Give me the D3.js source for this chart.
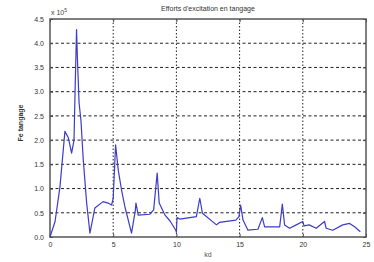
<!DOCTYPE html>
<html><head><meta charset="utf-8">
<script src="https://cdn.jsdelivr.net/npm/d3@7"></script>
<style>html,body{margin:0;padding:0;background:#fff;}svg{display:block;font-family:"Liberation Sans",Arial,sans-serif;}</style>
</head><body>
<script>
const kd = [0,0.4,0.79,1.18,1.45,1.71,1.9,2.0,2.1,2.18,2.3,2.45,2.63,2.9,3.16,3.55,4.2,4.6,4.87,5.0,5.19,5.4,5.66,5.92,6.45,6.75,6.8,6.98,7.9,8.2,8.48,8.64,9.1,9.5,9.95,10.0,10.05,10.27,11.58,11.85,12.06,13.17,13.4,14.7,14.95,15.08,15.27,15.66,16.45,16.8,16.98,18.17,18.38,18.56,18.96,19.48,20.0,20.1,20.5,21.06,21.72,21.85,22.37,23.16,23.7,24.1,24.55];
const fe = [0,0.32,1.04,2.18,2.05,1.73,2.0,3.2,4.28,3.6,2.77,2.4,1.6,0.7,0.08,0.6,0.73,0.7,0.66,0.8,1.9,1.38,0.97,0.63,0.08,0.55,0.7,0.45,0.47,0.56,1.32,0.7,0.45,0.33,0.14,0.1,0.4,0.37,0.42,0.8,0.49,0.25,0.3,0.35,0.42,0.66,0.35,0.14,0.16,0.4,0.21,0.21,0.68,0.25,0.18,0.25,0.32,0.23,0.25,0.18,0.32,0.18,0.14,0.25,0.28,0.21,0.11];
const xTicks = [0,5,10,15,20,25];
const yTicks = [0,0.5,1,1.5,2,2.5,3,3.5,4,4.5];
const title = "Efforts d'excitation en tangage";
const xLabel = "kd";
const yLabel = "Fe tangage";

const W=374,H=262, L=50,R=366,T=19,B=237;
const svg=d3.select("body").append("svg").attr("width",W).attr("height",H);
const x=d3.scaleLinear().domain([0,25]).range([L,R]);
const y=d3.scaleLinear().domain([0,4.5]).range([B,T]);

// grid
svg.append("g").selectAll("line").data(yTicks.slice(1,-1)).join("line")
 .attr("x1",L).attr("x2",R).attr("y1",d=>y(d)).attr("y2",d=>y(d))
 .attr("stroke","#222").attr("stroke-width",1).attr("stroke-dasharray","3,2.5");
svg.append("g").selectAll("line").data(xTicks.slice(1,-1)).join("line")
 .attr("x1",d=>x(d)).attr("x2",d=>x(d)).attr("y1",T).attr("y2",B)
 .attr("stroke","#222").attr("stroke-width",1).attr("stroke-dasharray","1.5,2");

// axes
const xa=svg.append("g").attr("transform",`translate(0,${B})`)
 .call(d3.axisBottom(x).tickValues(xTicks).tickSize(-3).tickPadding(5));
const ya=svg.append("g").attr("transform",`translate(${L},0)`)
 .call(d3.axisLeft(y).tickValues(yTicks).tickSize(-3).tickPadding(6));
[xa,ya].forEach(a=>{a.select(".domain").remove();a.selectAll("line").attr("stroke","#444");a.selectAll("text").attr("font-size",7).attr("fill","#333").attr("font-family","Liberation Sans,Arial,sans-serif");});
svg.append("g").attr("transform",`translate(${R},0)`).call(d3.axisRight(y).tickValues(yTicks).tickSize(-3).tickFormat(""))
 .call(g=>{g.select(".domain").remove();g.selectAll("line").attr("stroke","#444");});
svg.append("g").attr("transform",`translate(0,${T})`).call(d3.axisTop(x).tickValues(xTicks).tickSize(-3).tickFormat(""))
 .call(g=>{g.select(".domain").remove();g.selectAll("line").attr("stroke","#444");});
svg.append("rect").attr("x",L).attr("y",T).attr("width",R-L).attr("height",B-T)
 .attr("fill","none").attr("stroke","#555").attr("stroke-width",1.5);

// line
svg.append("path").datum(kd.map((k,i)=>[k,fe[i]]))
 .attr("d",d3.line().x(d=>x(d[0])).y(d=>y(d[1])))
 .attr("fill","none").attr("stroke","#3b3bcc").attr("stroke-width",1.2).attr("stroke-linejoin","round");

// texts
svg.append("text").attr("x",(L+R)/2).attr("y",11).attr("text-anchor","middle").attr("font-size",7).attr("fill","#333").text(title);
svg.append("text").attr("x",(L+R)/2).attr("y",257).attr("text-anchor","middle").attr("font-size",7).attr("fill","#555").text(xLabel);
svg.append("text").attr("transform",`translate(23,${(T+B)/2-5}) rotate(-90)`).attr("text-anchor","middle").attr("font-size",7).attr("fill","#333").attr("font-weight","bold").text(yLabel);
const ex=svg.append("text").attr("x",L+1).attr("y",15).attr("font-size",7).attr("fill","#444");
ex.append("tspan").text("x 10");
ex.append("tspan").attr("dy",-3).attr("font-size",5).text("5");
</script>
</body></html>
